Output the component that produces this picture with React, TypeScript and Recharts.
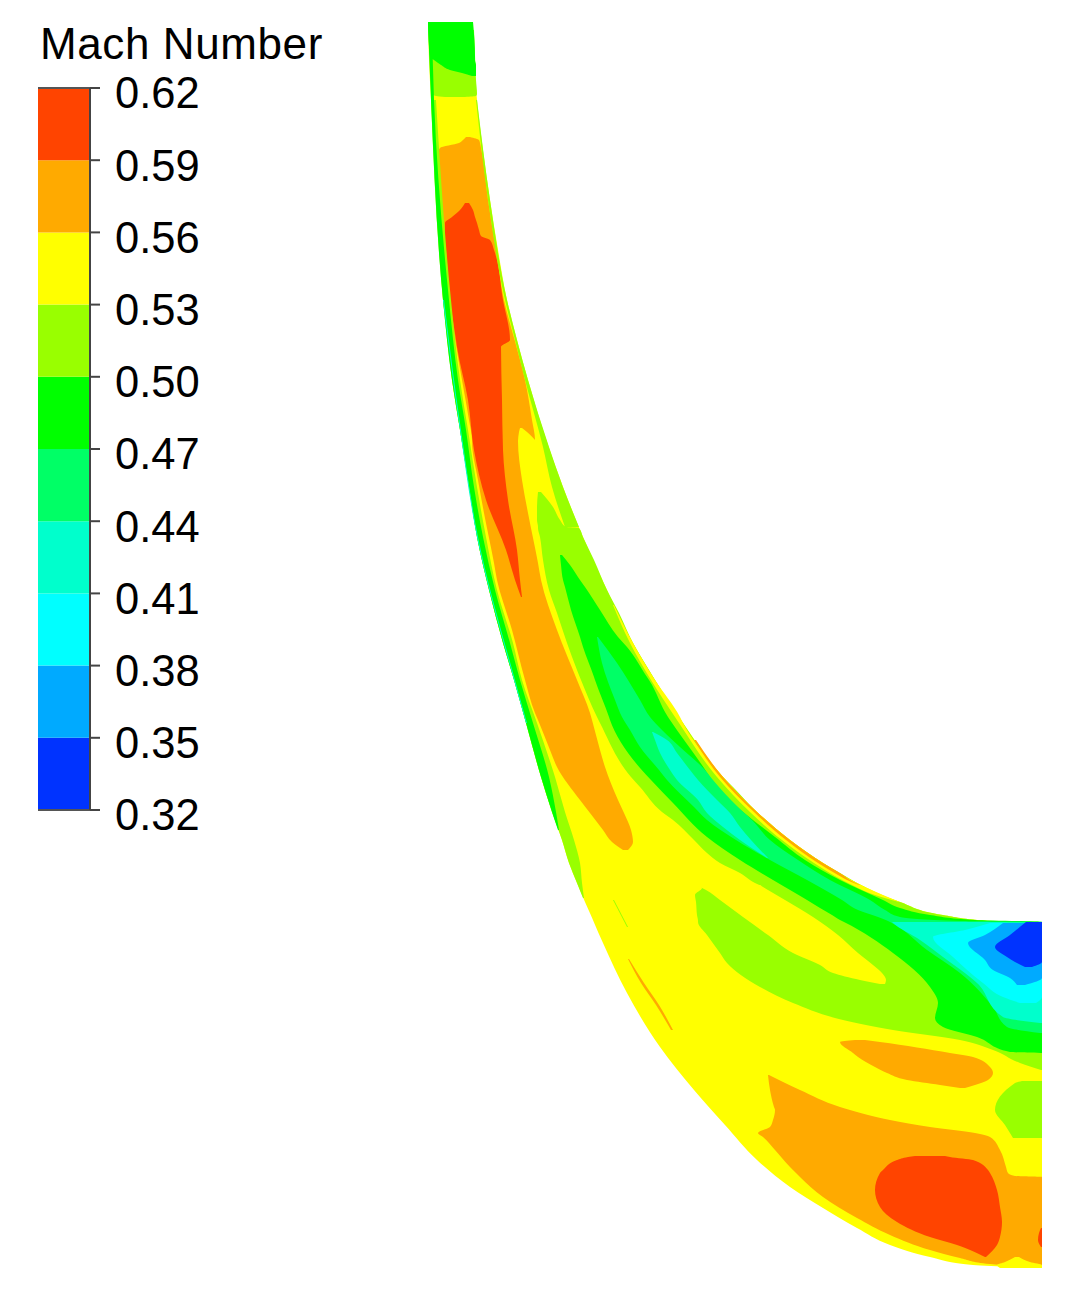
import React from "react";
import { ComposedChart, BarChart, Area, Bar, XAxis, YAxis, ReferenceLine } from "recharts";

type Row = [number, number, number];

// Contour colours
const BLUE = "#0033ff", SKY = "#00aaff", CYAN = "#00ffff", AQUA = "#00ffcc", SPRING = "#00ff66";
const GREEN = "#00ff00", LIME = "#99ff00", YELLOW = "#ffff00", ORANGE = "#ffaa00", RED = "#ff4400";

// Colour bar
const legendLevels = [0.62, 0.59, 0.56, 0.53, 0.5, 0.47, 0.44, 0.41, 0.38, 0.35, 0.32];
const legendColors = [BLUE, SKY, CYAN, AQUA, SPRING, GREEN, LIME, YELLOW, ORANGE, RED];
const legendStep = 0.03;

// Each region: [y, x left, x right]
const outline: Row[] = [[22,428,473],[60,429,474],[100,431,477],[150,434,483],[200,437,490],[250,440,498],[300,443,507],[340,448,517],[380,452,528],[430,460,543],[487,469,563],[537,477,583],[590,489,607],[643,503,633],[680,514,655],[723,526,683],[777,541,723],[812,552,757],[840,562,790],[863,569,823],[883,577,857],[902,585,900],[915,590.8,943],[921,593.4,993],[922,593.8,1042],[943,603,1042],[993,627,1042],[1047,660,1042],[1090,694,1042],[1125,725,1042],[1160,757,1042],[1187,790,1042],[1208,823,1042],[1228,857,1042],[1245,890,1042],[1257,930,1042],[1265,973,1042],[1268,1042,1042]];
const topLime: Row[] = [[30,429,474],[55,430,475],[80,431,476],[94,432,477],[96,436,476],[97,445,465]];
const topGreen: Row[] = [[22,428,473],[57,430,475],[60,434,475],[65,441,476],[70,450,476],[73,462,476],[76,472,476]];
const orangeMain: Row[] = [[137,466,470],[140,463,479],[143,459,480],[148,440,481],[153,438,482],[200,441,488],[250,445,496],[300,449,504],[345,456,516],[380,462,525],[420,469,532],[440,472,535],[441,472,518],[480,478,522],[513,484,528],[563,494,538],[580,497,541],[630,512,557],[680,525,577],[713,535,590],[720,538,592],[750,550,600],[767,557,605],[800,580,618],[813,590,624],[830,603,631],[842,612,633],[850,623,628]];
const orangeTip: Row[] = [[428,520,522],[432,519,527],[441,518,536]];
const redMain: Row[] = [[203,465,469],[210,460,473],[217,452,475],[223,445,477],[230,445,479],[236,445,481],[240,445,490],[250,446,494],[300,450,503],[340,456,510],[347,457,501],[400,468,502],[450,474,503],[500,486,508],[550,506,517],[580,515,520],[597,521,522]];
const leftLime: Row[] = [[100,431,436],[300,443,451],[380,452,460],[430,460,468],[487,469,477],[537,477,486],[590,489,497],[643,503,513],[680,514,522],[723,526,537],[777,541,555],[812,552,565],[840,562,574],[863,569,580],[883,577,582],[898,583,584]];
const leftGreen: Row[] = [[22,428,432],[100,431,434],[300,443,449],[380,452,458],[430,460,466],[487,469,474],[537,477,483],[590,489,495],[643,503,510],[680,514,520],[723,526,533],[777,541,549],[812,552,556],[830,558,559]];
const leftEdge: Row[] = [[300,443,444],[430,460,461],[537,477,478],[680,514,515],[723,526,527]];
const rightStrip: Row[] = [[100,476,477],[200,488,490],[300,505,507],[340,515,517],[380,525,528],[447,543,549],[487,552,563],[527,565,579]];
const limeMain: Row[] = [[492,538,541],[507,537,553],[520,537,560],[527,538,566],[528,538,579],[537,540,583],[560,543,594],[590,549,607],[613,557,619],[643,567,633],[670,577,649],[680,581,655],[717,597,679],[723,600,683],[777,631,723],[787,640,733],[812,662,757],[820,673,766],[840,694,790],[853,707,808],[863,720,823],[873,740,840],[883,755,857],[888,766,866]];
const limeBlob: Row[] = [[886,700,863],[888,702,866],[895,695,881],[902,696,900],[915,697,943],[921,698,993],[922,698,1042],[935,707,1042],[953,720,1042],[963,727,1042],[987,760,1042],[1003,793,1042],[1020,843,1042],[1030,893,1042],[1040,960,1042],[1050,993,1042],[1063,1020,1042],[1070,1041,1042]];
const yellowWedge: Row[] = [[885,696,760],[887,700,763],[890,706,768],[900,720,785],[917,743,813],[935,768,838],[953,793,858],[965,820,873],[973,833,882],[980,860,886],[984,880,885]];
const greenMain: Row[] = [[555,560,562],[565,561,570],[580,563,580],[587,565,585],[610,571,600],[637,580,618],[647,583,627],[677,594,647],[680,595,649],[717,609,668],[720,610,670],[768,640,704],[780,651,712],[803,673,733],[837,707,775],[860,740,805],[880,773,840],[900,807,883],[908,820,900],[915,832,930],[920,840,975],[922,844,1042],[953,893,1042],[987,930,1042],[1003,938,1042],[1018,935,1042],[1027,943,1042],[1037,977,1042],[1052,1010,1042],[1053,1041,1042]];
const springMain: Row[] = [[637,597,598],[663,602,617],[700,615,640],[717,622,650],[730,630,662],[747,640,680],[770,659,705],[780,667,713],[807,694,738],[820,707,752],[840,736,770],[860,770,798],[880,807,830],[900,842,870],[910,858,885],[917,878,900],[921,888,960],[922,890,1042],[950,927,1042],[973,960,1042],[1007,993,1042],[1027,1007,1042],[1033,1040,1042]];
const aquaTail: Row[] = [[732,652,653],[740,655,667],[753,660,677],[770,670,690],[780,677,698],[800,698,717],[813,707,730],[827,723,740],[840,740,751],[858,767,768]];
const aquaEnd: Row[] = [[922,892,998],[923,893,1042],[940,920,1042],[957,943,1042],[983,977,1042],[1017,1003,1042],[1023,1040,1042]];
const cyanEnd: Row[] = [[923,990,1042],[930,965,1042],[937,933,1042],[957,953,1042],[983,983,1042],[997,1003,1042],[1003,1020,1036]];
const skyEnd: Row[] = [[923,1003,1042],[935,985,1042],[943,968,1042],[960,985,1042],[970,993,1042],[978,1010,1042],[985,1017,1025]];
const blueEnd: Row[] = [[922,1026,1042],[935,1010,1042],[947,995,1042],[957,1007,1042],[962,1015,1042],[967,1025,1032]];
const orangeUpper: Row[] = [[1040,855,865],[1042,840,880],[1053,853,950],[1057,858,973],[1067,875,990],[1073,887,993],[1080,907,988],[1085,940,975],[1088,960,965]];
const orangeLower: Row[] = [[1075,768,769],[1090,770,800],[1107,774,840],[1110,775,850],[1120,773,890],[1127,770,930],[1133,758,975],[1137,763,990],[1150,775,1000],[1167,790,1006],[1173,796,1008],[1176,799,1015],[1177,800,1042],[1197,823,1042],[1218,857,1042],[1235,890,1042],[1250,930,1042],[1258,960,1042],[1264,990,1042],[1266,1015,1042]];
const redLower: Row[] = [[1156,915,945],[1157,908,950],[1160,897,973],[1170,883,988],[1173,880,990],[1190,875,997],[1207,880,1000],[1222,897,1002],[1237,930,1000],[1245,957,997],[1257,985,986]];
const redEdge: Row[] = [[1228,1041,1042],[1233,1039,1042],[1240,1038,1042],[1247,1041,1042]];
const limePatch: Row[] = [[1081,1022,1042],[1083,1015,1042],[1110,995,1042],[1125,1005,1042],[1138,1013,1042]];
const yellowFoot: Row[] = [[1257,1015,1019],[1262,1005,1030],[1265,997,1042],[1268,1000,1042]];
const orangeStreak: Row[] = [[959,628,629],[983,641,644],[1005,656,659],[1030,671,673]];
const limeStreak: Row[] = [[900,613,614],[927,627,628]];
const rightYellow: Row[] = [[605,613,614],[643,630,633],[680,651,655],[717,675,680],[723,679,683],[777,717,723],[812,750,757],[840,782,790],[863,814,823],[883,848,857],[895,875,883],[902,899,900]];
const rightOrange: Row[] = [[740,694,696],[777,720,723],[812,754,757],[840,786,790],[863,818,823],[875,838,843],[880,847,850],[885,859,860]];

const layers: [string, Row[], string][] = [
  ["outline", outline, YELLOW],
  ["topLime", topLime, LIME],
  ["topGreen", topGreen, GREEN],
  ["orangeMain", orangeMain, ORANGE],
  ["orangeTip", orangeTip, YELLOW],
  ["redMain", redMain, RED],
  ["leftLime", leftLime, LIME],
  ["leftGreen", leftGreen, GREEN],
  ["leftEdge", leftEdge, AQUA],
  ["rightStrip", rightStrip, LIME],
  ["limeMain", limeMain, LIME],
  ["limeBlob", limeBlob, LIME],
  ["yellowWedge", yellowWedge, YELLOW],
  ["rightYellow", rightYellow, YELLOW],
  ["rightOrange", rightOrange, ORANGE],
  ["greenMain", greenMain, GREEN],
  ["springMain", springMain, SPRING],
  ["aquaTail", aquaTail, AQUA],
  ["aquaEnd", aquaEnd, AQUA],
  ["cyanEnd", cyanEnd, CYAN],
  ["skyEnd", skyEnd, SKY],
  ["blueEnd", blueEnd, BLUE],
  ["orangeUpper", orangeUpper, ORANGE],
  ["orangeLower", orangeLower, ORANGE],
  ["redLower", redLower, RED],
  ["redEdge", redEdge, RED],
  ["limePatch", limePatch, LIME],
  ["yellowFoot", yellowFoot, YELLOW],
  ["orangeStreak", orangeStreak, ORANGE],
  ["limeStreak", limeStreak, LIME],
];

const toRows = (rows: Row[]) => rows.map(([y, l, r]) => ({ y, x: [l, r] }));

const legendRow: Record<string, number | string> = { name: "Mach", base: legendLevels[legendLevels.length - 1] };
legendColors.forEach((_, i) => { legendRow["band" + i] = legendStep; });

const FONT = "'Liberation Sans', Arial, sans-serif";

const LegendTick = (props: any) => (
  <text x={props.x - 1} y={props.y + 5} dy="0.355em" fill="#000" fontFamily={FONT} fontSize={43.5}>
    {Number(props.payload.value).toFixed(2)}
  </text>
);

export default function App() {
  return (
    <div style={{ position: "absolute", left: 0, top: 0, width: 1081, height: 1299, background: "#fff" }}>
      <div style={{ position: "absolute", left: 0, top: 0 }}>
        <ComposedChart width={1081} height={1299} layout="vertical" margin={{ top: 0, right: 0, bottom: 0, left: 0 }}>
          <XAxis type="number" xAxisId="x" domain={[0, 1081]} hide allowDataOverflow />
          <YAxis type="number" yAxisId="y" dataKey="y" domain={[0, 1299]} hide allowDataOverflow />
          {layers.map(([name, rows, color]) => (
            <Area
              key={name}
              xAxisId="x"
              yAxisId="y"
              data={toRows(rows)}
              dataKey="x"
              type="monotoneY"
              fill={color}
              fillOpacity={1}
              stroke="none"
              dot={false}
              activeDot={false}
              isAnimationActive={false}
            />
          ))}
        </ComposedChart>
      </div>
      <div style={{ position: "absolute", left: 40, top: 19, font: `44px ${FONT}`, letterSpacing: 0.6, color: "#000", whiteSpace: "nowrap" }}>
        Mach Number
      </div>
      <div style={{ position: "absolute", left: 0, top: 0 }}>
        <BarChart width={250} height={860} data={[legendRow]} barCategoryGap={0} margin={{ top: 88, right: 0, bottom: 50, left: 38 }}>
          <XAxis dataKey="name" hide />
          <YAxis yAxisId="v" orientation="right" type="number" width={160} domain={[0.32, 0.62]} ticks={legendLevels} allowDataOverflow interval={0}
            tick={<LegendTick />} tickSize={10} tickMargin={16} axisLine={{ stroke: "#444", strokeWidth: 2 }} tickLine={{ stroke: "#444", strokeWidth: 2 }} />
          <YAxis yAxisId="l" orientation="left" type="number" width={0} domain={[0.32, 0.62]} tick={false} tickLine={false} axisLine={{ stroke: "#555", strokeWidth: 2 }} />
          <Bar yAxisId="v" dataKey="base" stackId="s" fill="none" isAnimationActive={false} />
          {legendColors.map((c, i) => (
            <Bar key={c} yAxisId="v" dataKey={"band" + i} stackId="s" fill={c} isAnimationActive={false} />
          ))}
          <ReferenceLine yAxisId="v" y={0.62} stroke="#555" strokeWidth={2} />
          <ReferenceLine yAxisId="v" y={0.32} stroke="#555" strokeWidth={2} />
        </BarChart>
      </div>
    </div>
  );
}
